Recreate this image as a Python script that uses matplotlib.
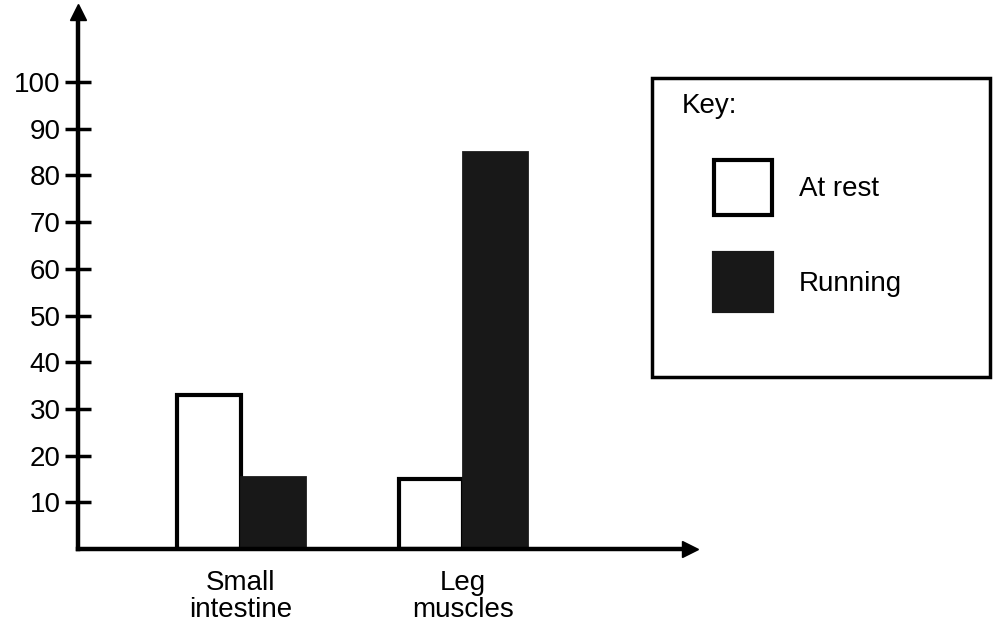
import matplotlib
matplotlib.use("Agg")
import matplotlib.pyplot as plt
from matplotlib.patches import Rectangle

categories = ["Small\nintestine", "Leg\nmuscles"]
series_names = ["At rest", "Running"]
at_rest = [33, 15]
running = [15.5, 85]
y_ticks = [10, 20, 30, 40, 50, 60, 70, 80, 90, 100]

plt.rcParams['font.family'] = ['Liberation Sans', 'DejaVu Sans']

W, H = 996, 626
fig = plt.figure(figsize=(W / 100, H / 100), dpi=100)
left_px, right_px, bottom_px, top_px = 78, 690, 549, 12
ax = fig.add_axes([left_px / W, (H - bottom_px) / H,
                   (right_px - left_px) / W, (bottom_px - top_px) / H])

colors = ["white", "#181818"]
bw = 0.29
xs = [0, 1]
for i, x in enumerate(xs):
    ax.bar(x - bw / 2, at_rest[i], width=bw, color=colors[0], edgecolor="black",
           linewidth=3, zorder=2)
    ax.bar(x + bw / 2, running[i], width=bw, color=colors[1], edgecolor=colors[1],
           linewidth=2, zorder=2)

ax.set_xlim(-0.734, 2.023)
ax.set_ylim(0, 115)
for s in ["top", "right"]:
    ax.spines[s].set_visible(False)
for s in ["left", "bottom"]:
    ax.spines[s].set_linewidth(3.2)
    ax.spines[s].set_zorder(3)

ax.set_yticks(y_ticks)
ax.set_yticklabels([str(t) for t in y_ticks], fontsize=20)
ax.tick_params(axis="y", direction="inout", length=19, width=2.5, pad=3)
ax.set_xticks(xs)
ax.set_xticklabels(categories, fontsize=20, linespacing=1.05)
ax.tick_params(axis="x", length=0, pad=15)

# arrow heads
ax.plot(0, 1, marker="^", color="black", markersize=11, transform=ax.transAxes,
        clip_on=False, zorder=4)
ax.plot(1, 0, marker=">", color="black", markersize=11, transform=ax.transAxes,
        clip_on=False, zorder=4)

# key box
def fx(px):
    return px / W

def fy(py):
    return (H - py) / H

fig.patches.append(Rectangle((fx(652), fy(377)), fx(990) - fx(652), fy(78) - fy(377),
                             transform=fig.transFigure, facecolor="white",
                             edgecolor="black", linewidth=2.5))
fig.text(fx(682), fy(106), "Key:", fontsize=20, va="center", ha="left")
key_rows = [(160, 215), (253, 311)]
for name, col, (t, b) in zip(series_names, colors, key_rows):
    fig.patches.append(Rectangle((fx(714), fy(b)), fx(772) - fx(714), fy(t) - fy(b),
                                 transform=fig.transFigure, facecolor=col,
                                 edgecolor="black" if col == "white" else col,
                                 linewidth=3))
    fig.text(fx(799), fy((t + b) / 2 + 2), name, fontsize=20, va="center", ha="left")

fig.savefig("out.png", dpi=100)
